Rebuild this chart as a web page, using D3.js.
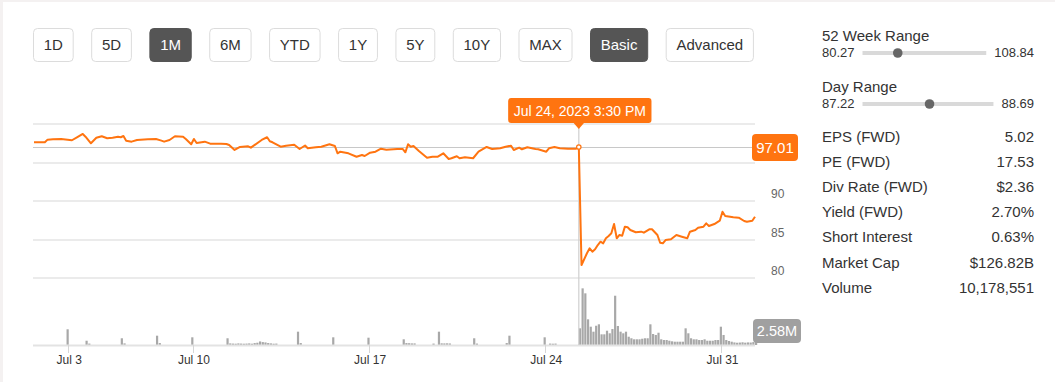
<!DOCTYPE html>
<html><head><meta charset="utf-8">
<script src="https://cdn.jsdelivr.net/npm/d3@7"></script>
<style>
html,body{margin:0;padding:0;background:#f4f1f1;}
svg{display:block;font-family:"Liberation Sans",Arial,sans-serif;}
</style></head>
<body>
<svg id="c" width="1055" height="382"></svg>
<script>
// ---------- DATA ----------
const rangeButtons = ["1D","5D","1M","6M","YTD","1Y","5Y","10Y","MAX","Basic","Advanced"];
const activeButtons = ["1M","Basic"];

const days = ["Jun 30","Jul 3","Jul 5","Jul 6","Jul 7","Jul 10","Jul 11","Jul 12","Jul 13","Jul 14",
  "Jul 17","Jul 18","Jul 19","Jul 20","Jul 21","Jul 24","Jul 25","Jul 26","Jul 27","Jul 28","Jul 31"];
const barsPerDay = [13,7,13,13,13,13,13,13,13,13,13,13,13,13,13,13,13,13,13,13,13];
const tickLabels = ["Jul 3","Jul 10","Jul 17","Jul 24","Jul 31"];
const yTicks = [80,85,90,95];
const yLabelTicks = [80,85,90];   // 95 is hidden behind the price badge

// 30-minute bar index -> price
const priceBar = [0,4,5,7,10,14,16,18,19,21,23,25,27,29,31,32,33,34,36,38,42,45,47,48,50,52,55,56,58,59,60,63,65,69,71,72,74,76,79,80,84,86,87,88,91,93,96,98,100,101,104,106,109,111,112,113,116,119,121,122,124,126,128,130,134,136,137,138,139,140,142,145,147,149,151,153,154,156,157,159,162,164,167,169,172,174,176,177,179,180,182,185,186,189,190,192,194,197,200,201,
  202,204,205,206,207,208,209,210,211,212,213,214,215,216,217,218,219,220,222,224,225,227,228,230,231,232,233,235,237,239,241,242,244,245,247,248,249,251,253,254,255,258,260,262,263,265,266];
const priceVal = [97.62,97.62,97.96,98.00,98.05,97.88,98.30,98.70,98.34,97.49,98.20,98.40,98.14,98.20,98.34,98.27,98.43,97.83,97.70,97.92,98.00,98.05,97.83,97.70,97.92,98.40,98.34,98.05,97.36,98.05,97.53,97.70,97.44,97.44,97.40,97.27,96.62,97.01,97.10,96.92,97.92,98.27,97.75,97.62,97.05,97.18,97.31,96.75,97.20,96.84,96.97,97.05,97.36,97.14,96.19,96.40,96.19,95.75,95.97,95.84,96.27,96.40,96.79,96.66,96.75,96.75,96.32,97.36,97.05,97.14,96.49,95.62,95.75,95.75,96.19,95.46,95.55,95.81,95.55,95.68,95.55,96.40,97.01,96.75,96.84,97.05,97.18,96.62,96.92,96.71,96.97,96.75,96.71,96.40,96.84,97.01,96.84,96.79,96.79,97.01,
  81.72,83.24,83.89,83.45,83.76,84.31,84.74,84.53,85.18,85.48,85.83,87.03,85.18,85.61,85.52,86.69,86.61,86.26,85.96,86.04,85.91,86.35,86.35,85.61,84.61,84.53,84.96,85.05,85.61,85.39,85.18,86.04,86.26,86.55,86.69,87.12,86.77,87.03,87.46,88.63,88.07,87.90,87.85,87.42,87.33,87.46,87.98];

// 30-minute bar index -> volume (millions)
const volBar = [12,19,20,32,33,45,46,58,71,72,73,74,75,76,77,78,79,80,81,82,83,84,85,86,87,88,89,97,98,110,123,136,137,138,139,140,147,149,150,151,152,153,162,163,174,175,188,190,191,192,201,
  202,203,204,205,206,207,208,209,210,211,212,213,214,215,216,217,218,219,220,221,222,223,224,225,226,227,228,229,230,231,232,233,234,235,236,237,238,239,240,241,242,243,244,245,246,247,248,249,250,251,252,253,254,255,256,257,258,259,260,261,262,263,264,265,266];
const volVal = [2.43,0.66,0.22,1.04,0.25,1.44,0.30,1.19,1.04,0.25,0.22,0.20,0.25,0.22,0.20,0.22,0.25,0.20,0.30,0.35,0.55,0.45,0.40,0.30,0.25,0.20,0.22,2.06,0.30,1.19,1.13,0.88,0.30,0.28,0.25,0.25,0.22,2.06,0.26,0.25,0.26,0.24,1.04,0.22,0.30,1.44,1.19,0.22,0.20,0.22,2.58,
  8.76,7.99,3.97,2.83,2.06,2.98,3.20,1.65,1.65,2.21,1.81,2.47,7.62,2.94,2.06,1.81,2.06,1.28,1.04,0.88,0.88,0.88,0.97,1.04,1.04,3.20,1.70,1.55,1.90,0.88,0.77,0.77,0.66,0.57,0.51,0.51,0.51,0.51,2.58,1.81,1.04,0.88,0.88,0.77,0.77,0.88,0.66,0.66,0.66,0.77,0.77,2.83,1.55,0.77,0.62,0.51,0.40,0.35,0.38,0.42,0.36,0.40,0.38,0.45,0.66];

const hoverBar = 201;
const hoverLabel = "Jul 24, 2023 3:30 PM";
const hoverPrice = 97.01;
const hoverVolume = "2.58M";

const rangeNames = ["52 Week Range","Day Range"];
const rangeLow = [80.27,87.22];
const rangeHigh = [108.84,88.69];
const currentPrice = 87.95;

const statLabels = ["EPS (FWD)","PE (FWD)","Div Rate (FWD)","Yield (FWD)","Short Interest","Market Cap","Volume"];
const statValues = ["5.02","17.53","$2.36","2.70%","0.63%","$126.82B","10,178,551"];

// ---------- DRAW ----------
const ORANGE = "#ff7410";
const svg = d3.select("#c");
svg.append("rect").attr("x",3).attr("y",2).attr("width",1052).attr("height",380).attr("fill","#fff");

// buttons
let bx = 33;
const btnG = svg.append("g");
rangeButtons.forEach(lbl => {
  const act = activeButtons.includes(lbl);
  const g = btnG.append("g");
  const t = g.append("text").text(lbl).attr("font-size",15).attr("y",50)
    .attr("fill", act ? "#fff" : "#333").attr("text-anchor","middle");
  const w = t.node().getComputedTextLength() + 21.5;
  g.insert("rect","text").attr("x",bx+0.5).attr("y",28.5).attr("width",w-1).attr("height",33).attr("rx",4)
    .attr("fill", act ? "#555" : "#fff").attr("stroke", act ? "#555" : "#dcdcdc");
  t.attr("x", bx + w/2);
  bx += w + 17.5;
});

// scales
const N = d3.sum(barsPerDay) - 1;
const x = d3.scaleLinear().domain([0, N]).range([34, 755]);
const y = d3.scaleLinear().domain([80, 100]).range([278.3, 123.9]);
const yv = d3.scaleLinear().domain([0, 9]).range([345, 286.8]);
const x0 = 33, x1 = 755;

// day starts
const dayStart = d3.cumsum([0, ...barsPerDay.slice(0,-1)]);
const tickIdx = tickLabels.map(l => dayStart[days.indexOf(l)]);

// gridlines
const grid = svg.append("g");
grid.selectAll("line").data([100, ...yTicks]).join("line")
  .attr("x1",x0).attr("x2",x1).attr("y1",d=>Math.round(y(d))).attr("y2",d=>Math.round(y(d)))
  .attr("stroke","#e4e4e4").attr("stroke-width",1.6);

// y labels
svg.append("g").selectAll("text").data(yLabelTicks).join("text")
  .attr("x",771).attr("y",d=>y(d)-3).attr("font-size",12).attr("fill","#666").text(d=>d);

// volume bars
const vol = volBar.map((b,i)=>({i:b, v:volVal[i]}));
svg.append("g").selectAll("rect").data(vol).join("rect")
  .attr("x",d=>x(d.i)).attr("width",2.2)
  .attr("y",d=>yv(d.v)).attr("height",d=>yv(0)-yv(d.v)).attr("fill","#a8a8a8");

// x axis baseline + ticks
svg.append("line").attr("x1",x0).attr("x2",x1).attr("y1",345.5).attr("y2",345.5)
  .attr("stroke","#e3e3e3").attr("stroke-width",2);
const xa = svg.append("g");
xa.selectAll("line").data(tickIdx).join("line")
  .attr("x1",d=>Math.round(x(d))-0.5).attr("x2",d=>Math.round(x(d))-0.5).attr("y1",345).attr("y2",353)
  .attr("stroke","#d6d6d6");
xa.selectAll("text").data(tickLabels).join("text")
  .attr("x",(d,i)=>x(tickIdx[i])).attr("y",364).attr("text-anchor","middle")
  .attr("font-size",12).attr("fill","#333").text(d=>d);

// crosshair
const hx = x(hoverBar), hy = y(hoverPrice);
svg.append("line").attr("x1",x0).attr("x2",x1).attr("y1",Math.round(hy)+0.5).attr("y2",Math.round(hy)+0.5)
  .attr("stroke","#c8c8c8").attr("stroke-width",1.2);
svg.append("line").attr("x1",hx).attr("x2",hx).attr("y1",124).attr("y2",345)
  .attr("stroke","#cfcfcf").attr("stroke-width",1.2);

// price line
const pts = priceBar.map((b,i)=>({i:b, v:priceVal[i]}));
svg.append("path").datum(pts)
  .attr("d", d3.line().x(d=>x(d.i)).y(d=>y(d.v)))
  .attr("fill","none").attr("stroke",ORANGE).attr("stroke-width",2).attr("stroke-linejoin","round");
svg.append("circle").attr("cx",hx).attr("cy",hy).attr("r",2.2)
  .attr("fill","#fff").attr("stroke",ORANGE).attr("stroke-width",1.2);

// tooltip
const tt = svg.append("g");
const ttText = tt.append("text").text(hoverLabel).attr("font-size",14).attr("fill","#fff")
  .attr("text-anchor","middle").attr("x",hx+1).attr("y",116);
const tw = ttText.node().getComputedTextLength() + 11;
tt.insert("rect","text").attr("x",hx+1-tw/2).attr("y",98).attr("width",tw).attr("height",25).attr("rx",3).attr("fill",ORANGE);
tt.insert("path","text").attr("d",`M${hx-6},122L${hx+6},122L${hx},129Z`).attr("fill",ORANGE);

// price badge
const pb = svg.append("g");
pb.append("rect").attr("x",752).attr("y",134).attr("width",46).attr("height",27).attr("rx",4).attr("fill",ORANGE);
pb.append("text").attr("x",775).attr("y",hy+6).attr("text-anchor","middle").attr("font-size",15)
  .attr("fill","#fff").text(hoverPrice.toFixed(2));

// volume badge
const vb = svg.append("g");
vb.append("rect").attr("x",753).attr("y",319).attr("width",48).attr("height",24).attr("rx",4).attr("fill","#a0a0a0");
vb.append("text").attr("x",777).attr("y",336).attr("text-anchor","middle").attr("font-size",14.5)
  .attr("fill","#fff").text(hoverVolume);

// right panel
const RX0 = 822, RX1 = 1034;
const rp = svg.append("g");
rangeNames.forEach((nm,k)=>{
  const top = 41 + k*51;
  rp.append("text").attr("x",RX0).attr("y",top).attr("font-size",15).attr("fill","#333").text(nm);
  rp.append("text").attr("x",RX0).attr("y",top+16).attr("font-size",13).attr("fill","#333").text(rangeLow[k].toFixed(2));
  const hi = rp.append("text").attr("x",RX1).attr("y",top+16).attr("font-size",13).attr("fill","#333")
    .attr("text-anchor","end").text(rangeHigh[k].toFixed(2));
  const tStart = 862.5, tEnd = RX1 - hi.node().getComputedTextLength() - 8;
  const s = d3.scaleLinear().domain([rangeLow[k], rangeHigh[k]]).range([tStart, tEnd]);
  rp.append("line").attr("x1",tStart).attr("x2",tEnd).attr("y1",top+12).attr("y2",top+12)
    .attr("stroke","#d9d9d9").attr("stroke-width",4);
  rp.append("circle").attr("cx",s(currentPrice)+2).attr("cy",top+12).attr("r",4.8).attr("fill","#666");
});
statLabels.forEach((lb,k)=>{
  const yy = 142 + k*25.1;
  rp.append("text").attr("x",RX0).attr("y",yy).attr("font-size",15).attr("fill","#333").text(lb);
  rp.append("text").attr("x",RX1).attr("y",yy).attr("font-size",15).attr("fill","#333")
    .attr("text-anchor","end").text(statValues[k]);
});
</script>
</body></html>
